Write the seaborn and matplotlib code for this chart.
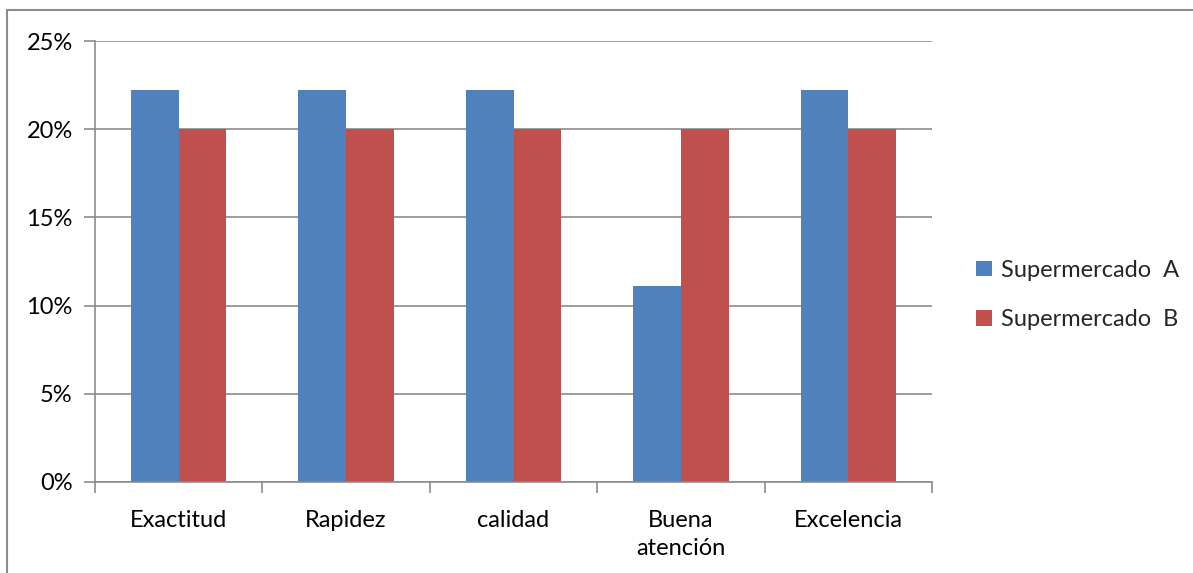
import matplotlib
matplotlib.use("Agg")
import matplotlib.pyplot as plt
import matplotlib.patches as mpatches
import seaborn as sns
import pandas as pd

categories = ["Exactitud", "Rapidez", "calidad", "Buena\natención", "Excelencia"]
series_names = ["Supermercado  A", "Supermercado  B"]
super_a = [22.22, 22.22, 22.22, 11.11, 22.22]
super_b = [20.0, 20.0, 20.0, 20.0, 20.0]
tick_labels = ["0%", "5%", "10%", "15%", "20%", "25%"]
colors = ["#4F81BD", "#C0504D"]

df = pd.DataFrame({
    "categoria": categories * 2,
    "serie": [series_names[0]] * len(categories) + [series_names[1]] * len(categories),
    "valor": super_a + super_b,
})

sns.set_theme(style="white")
plt.rcParams["font.family"] = ["Lato", "DejaVu Sans"]

fig = plt.figure(figsize=(11.93, 5.73), dpi=100)
W, H = 1193, 573
ax = fig.add_axes([95 / W, 1 - 482 / H, (932 - 95) / W, (482 - 41) / H])

sns.barplot(data=df, x="categoria", y="valor", hue="serie", palette=colors,
            width=0.57, saturation=1, ax=ax, edgecolor="none", linewidth=0,
            legend=False)

ax.set_xlim(-0.5, len(categories) - 0.5)
ax.set_ylim(0, 25)
ax.set_yticks([0, 5, 10, 15, 20, 25])
ax.set_yticklabels(tick_labels, fontsize=17, color="black")
ax.set_xticks(range(len(categories)))
ax.set_xticklabels(categories, fontsize=17, color="black", linespacing=1.45)
ax.set_xlabel("")
ax.set_ylabel("")

grid_color = "#8C8C8C"
ax.yaxis.grid(True, color=grid_color, linewidth=1.2)
ax.set_axisbelow(True)
for side in ["top", "right"]:
    ax.spines[side].set_visible(False)
for side in ["left", "bottom"]:
    ax.spines[side].set_color(grid_color)
    ax.spines[side].set_linewidth(1.2)

# y ticks pointing out left; x ticks at category boundaries pointing down
ax.tick_params(axis="y", which="major", left=True, length=8, width=1.2,
               color=grid_color, pad=8)
ax.tick_params(axis="x", which="major", bottom=False, pad=14)
ax.set_xticks([i - 0.5 for i in range(len(categories) + 1)], minor=True)
ax.tick_params(axis="x", which="minor", bottom=True, length=8, width=1.2,
               color=grid_color)

# legend on the right
handles = [mpatches.Patch(facecolor=c, edgecolor="none") for c in colors]
fig.legend(handles, series_names, loc="center left",
           bbox_to_anchor=(955 / W, 1 - 295 / H), frameon=False,
           fontsize=17, handlelength=0.65, handleheight=0.65,
           handletextpad=0.4, labelspacing=1.2)

# chart-area border
fig.patches.append(mpatches.Rectangle((7 / W, -0.1), 1.2, 1 - 10 / H + 0.1,
                                      transform=fig.transFigure, fill=False,
                                      edgecolor="#8C8C8C", linewidth=1.5))

fig.savefig("out.png", dpi=100, facecolor="white")
